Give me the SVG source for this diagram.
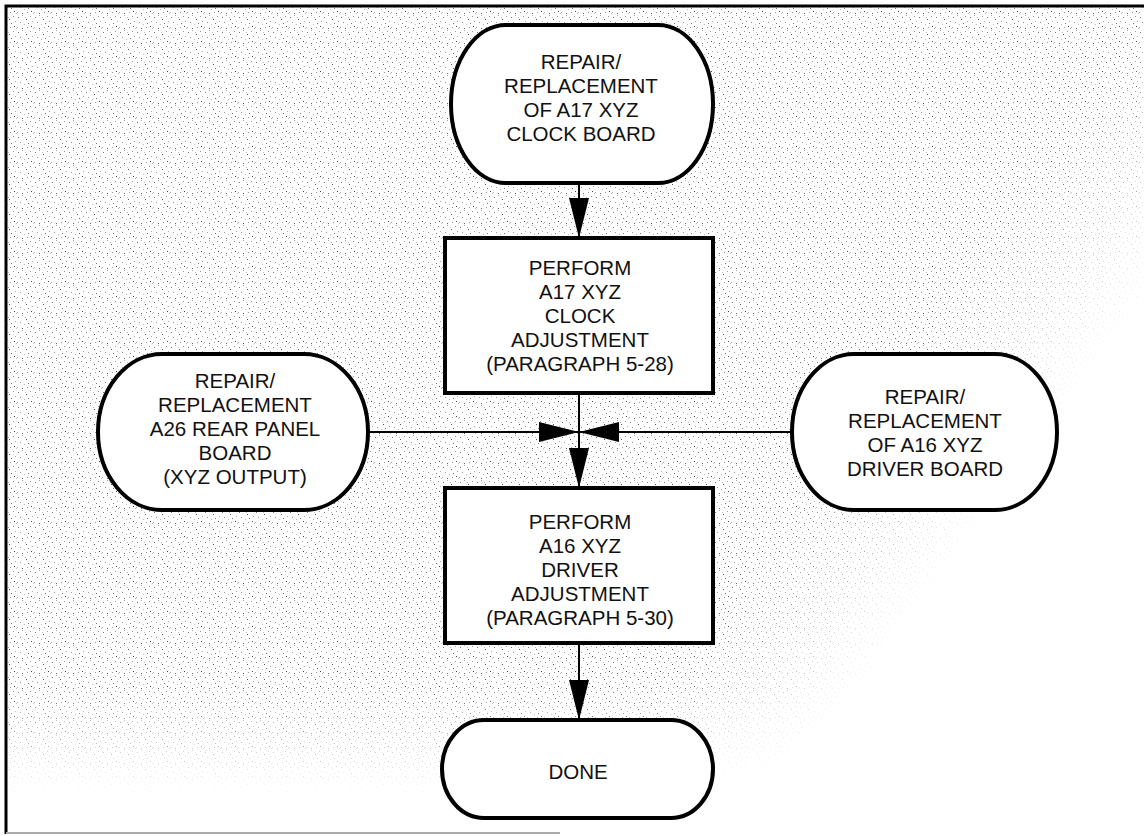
<svg xmlns="http://www.w3.org/2000/svg" width="1144" height="836" viewBox="0 0 1144 836">
  <style>
    .node { fill: #ffffff; stroke: #000000; stroke-width: 4; }
    .lbl { font-family: "Liberation Sans", Arial, sans-serif; font-size: 20.5px; fill: #111111; text-anchor: middle; }
    .conn { stroke: #000000; stroke-width: 2; fill: none; }
    .frame { stroke: #000000; stroke-width: 3; fill: none; }
  </style>
  <defs>
    <pattern id="dots" width="17" height="15" patternUnits="userSpaceOnUse">
      <rect x="1" y="2" width="1" height="1" fill="#777"/>
      <rect x="5" y="0" width="1" height="1" fill="#aaa"/>
      <rect x="9" y="4" width="1" height="1" fill="#555"/>
      <rect x="13" y="1" width="1" height="1" fill="#999"/>
      <rect x="3" y="7" width="1" height="1" fill="#999"/>
      <rect x="7" y="9" width="1" height="1" fill="#bbb"/>
      <rect x="11" y="8" width="1" height="1" fill="#777"/>
      <rect x="15" y="6" width="1" height="1" fill="#aaa"/>
      <rect x="0" y="12" width="1" height="1" fill="#aaa"/>
      <rect x="5" y="13" width="1" height="1" fill="#666"/>
      <rect x="10" y="12" width="1" height="1" fill="#999"/>
      <rect x="14" y="11" width="1" height="1" fill="#444"/>
      <rect x="8" y="2" width="1" height="1" fill="#bbb"/>
      <rect x="16" y="13" width="1" height="1" fill="#bbb"/>
    </pattern>
    <linearGradient id="gv" x1="0" y1="0" x2="0" y2="836" gradientUnits="userSpaceOnUse">
      <stop offset="0.82" stop-color="#fff"/>
      <stop offset="0.95" stop-color="#000"/>
    </linearGradient>
    <linearGradient id="gd" x1="0" y1="0" x2="1144" y2="836" gradientUnits="userSpaceOnUse">
      <stop offset="0.66" stop-color="#fff"/>
      <stop offset="0.78" stop-color="#000"/>
    </linearGradient>
    <mask id="mv" maskUnits="userSpaceOnUse" x="0" y="0" width="1144" height="836">
      <rect x="0" y="0" width="1144" height="836" fill="url(#gv)"/>
    </mask>
    <mask id="md" maskUnits="userSpaceOnUse" x="0" y="0" width="1144" height="836">
      <rect x="0" y="0" width="1144" height="836" fill="url(#gd)"/>
    </mask>
    <marker id="arrow" markerUnits="userSpaceOnUse" markerWidth="40" markerHeight="20" refX="40" refY="10" orient="auto" viewBox="0 0 40 20">
      <path d="M0,0 L40,10 L0,20 Z" fill="#000"/>
    </marker>
  </defs>

  <rect x="0" y="0" width="1144" height="836" fill="#ffffff"/>
  <g id="background" mask="url(#mv)">
    <rect x="7" y="7" width="1137" height="826" fill="url(#dots)" mask="url(#md)"/>
  </g>
  <g id="frame">
    <path class="frame" d="M1144,6 L6,6 L6,834"/>
    <line x1="6" y1="833" x2="560" y2="833" stroke="#aaaaaa" stroke-width="2"/>
  </g>

  <g id="connectors">
    <line class="conn" x1="579" y1="183" x2="579" y2="238" marker-end="url(#arrow)"/>
    <line class="conn" x1="579" y1="393" x2="579" y2="488" marker-end="url(#arrow)"/>
    <line class="conn" x1="579" y1="643" x2="579" y2="720" marker-end="url(#arrow)"/>
    <line class="conn" x1="368" y1="432" x2="579" y2="432" marker-end="url(#arrow)"/>
    <line class="conn" x1="792" y1="432" x2="579" y2="432" marker-end="url(#arrow)"/>
  </g>

  <g id="n_repair_a17">
    <rect class="node" x="451" y="25" width="262" height="158" rx="55" ry="79"/>
    <text class="lbl" x="581" y="69">REPAIR/</text>
    <text class="lbl" x="581" y="93">REPLACEMENT</text>
    <text class="lbl" x="581" y="117">OF A17 XYZ</text>
    <text class="lbl" x="581" y="141">CLOCK BOARD</text>
  </g>

  <g id="n_perform_a17">
    <rect class="node" x="445" y="238" width="268" height="155"/>
    <text class="lbl" x="580" y="275">PERFORM</text>
    <text class="lbl" x="580" y="299">A17 XYZ</text>
    <text class="lbl" x="580" y="323">CLOCK</text>
    <text class="lbl" x="580" y="347">ADJUSTMENT</text>
    <text class="lbl" x="580" y="371">(PARAGRAPH 5-28)</text>
  </g>

  <g id="n_repair_a26">
    <rect class="node" x="98" y="354" width="270" height="156" rx="64" ry="78"/>
    <text class="lbl" x="235" y="388">REPAIR/</text>
    <text class="lbl" x="235" y="412">REPLACEMENT</text>
    <text class="lbl" x="235" y="436">A26 REAR PANEL</text>
    <text class="lbl" x="235" y="460">BOARD</text>
    <text class="lbl" x="235" y="484">(XYZ OUTPUT)</text>
  </g>

  <g id="n_repair_a16">
    <rect class="node" x="792" y="354" width="265" height="156" rx="62" ry="78"/>
    <text class="lbl" x="925" y="404">REPAIR/</text>
    <text class="lbl" x="925" y="428">REPLACEMENT</text>
    <text class="lbl" x="925" y="452">OF A16 XYZ</text>
    <text class="lbl" x="925" y="476">DRIVER BOARD</text>
  </g>

  <g id="n_perform_a16">
    <rect class="node" x="445" y="488" width="268" height="155"/>
    <text class="lbl" x="580" y="529">PERFORM</text>
    <text class="lbl" x="580" y="553">A16 XYZ</text>
    <text class="lbl" x="580" y="577">DRIVER</text>
    <text class="lbl" x="580" y="601">ADJUSTMENT</text>
    <text class="lbl" x="580" y="625">(PARAGRAPH 5-30)</text>
  </g>

  <g id="n_done">
    <rect class="node" x="442" y="720" width="271" height="98" rx="42" ry="49"/>
    <text class="lbl" x="578" y="779">DONE</text>
  </g>
</svg>
